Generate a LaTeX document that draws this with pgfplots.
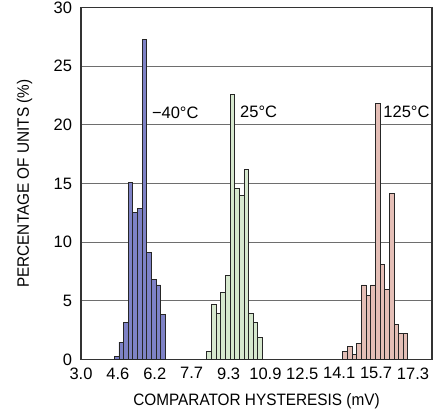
\documentclass[border=0pt]{standalone}
\usepackage{fontspec}
\setmainfont{Liberation Sans}
\newfontfamily\labfont[FakeStretch=0.93]{Liberation Sans}
\usepackage{pgfplots}
\pgfplotsset{compat=1.18}
\definecolor{cblue}{RGB}{126,130,198}
\definecolor{cgreen}{RGB}{214,232,206}
\definecolor{cred}{RGB}{228,190,182}
\definecolor{gridc}{RGB}{110,110,110}
\newcommand{\lf}{\fontsize{16.5}{19}\selectfont}
\begin{document}
\begin{tikzpicture}
\begin{axis}[
  scale only axis, width=351pt, height=352pt,
  xmin=3.0, xmax=18.12, ymin=0, ymax=30,
  xtick={3.0,4.589,6.178,7.767,9.356,10.944,12.533,14.122,15.711,17.3},
  xticklabels={3.0,4.6,6.2,7.7,9.3,10.9,12.5,14.1,15.7,17.3},
  ytick={0,5,...,30},
  major tick length=0pt,
  ymajorgrids,
  major grid style={gridc, line width=0.9pt},
  axis line style={black!80, line width=1.1pt},
  /pgf/number format/assume math mode=true,
  tick label style={font=\lf},
  yticklabel style={xshift=-5.5pt},
  xticklabel style={yshift=-4.5pt},
  xlabel={COMPARATOR HYSTERESIS (mV)},
  ylabel={PERCENTAGE OF UNITS (\%)},
  every axis x label/.style={at={(axis description cs:0.5,-0.117)}, anchor=center, font=\labfont\lf},
  every axis y label/.style={at={(axis description cs:-0.161,0.5)}, rotate=90, anchor=center, font=\labfont\lf},
]
\addplot[ybar, bar width=0.2, bar shift=0pt, fill=cblue, draw=black!85, line width=0.8pt] coordinates {
 (4.535,0.3) (4.735,1.5) (4.935,3.15) (5.135,15.08) (5.335,12.56) (5.535,12.86)
 (5.735,27.3) (5.935,9.15) (6.135,6.85) (6.335,6.36) (6.535,3.87)};
\addplot[ybar, bar width=0.2, bar shift=0pt, fill=cgreen, draw=black!85, line width=0.8pt] coordinates {
 (8.52,0.7) (8.72,4.7) (8.92,3.95) (9.12,5.75) (9.32,7.2) (9.52,22.6)
 (9.72,14.6) (9.92,14.0) (10.12,16.2) (10.32,3.95) (10.52,3.2) (10.72,1.9)};
\addplot[ybar, bar width=0.2, bar shift=0pt, fill=cred, draw=black!85, line width=0.8pt] coordinates {
 (14.38,0.68) (14.58,1.15) (14.78,0.45) (14.98,1.4) (15.18,6.36) (15.38,5.45)
 (15.58,6.36) (15.78,21.8) (15.98,8.1) (16.18,6.0) (16.38,14.15) (16.58,3.0)
 (16.78,2.25) (16.98,2.25)};
\node[anchor=west, inner sep=0pt, font=\lf] at (axis cs:6.05,21.0) {−40°C};
\node[anchor=west, inner sep=0pt, font=\lf] at (axis cs:9.85,21.1) {25°C};
\node[anchor=west, inner sep=0pt, font=\lf] at (axis cs:16.02,21.1) {125°C};
\end{axis}
\pgfresetboundingbox
\path (current axis.south west) ++(-81pt,-58.3pt) rectangle (current axis.north east) ++(12pt,7.6pt);
\end{tikzpicture}
\end{document}
